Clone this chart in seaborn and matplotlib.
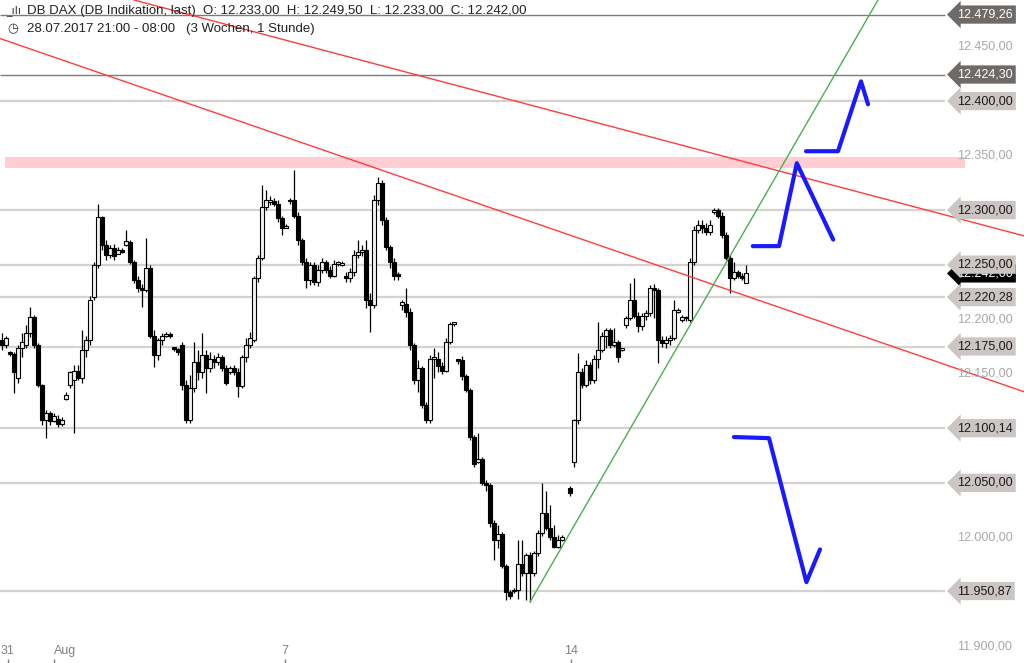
import numpy as np
import pandas as pd
import matplotlib
matplotlib.use("Agg")
import matplotlib.pyplot as plt
import matplotlib.transforms as mtransforms
import seaborn as sns

# DB DAX (DB Indikation), hourly bars 28.07.2017 21:00 - 08:00 (3 Wochen)
# one NaN bar marks the empty slot before the 14th
opens = [12181, 12176, 12170, 12168, 12146, 12174, 12176, 12187, 12202, 12176,
         12140, 12108, 12114, 12107, 12109, 12104, 12127, 12140, 12144, 12153,
         12146, 12172, 12181, 12220, 12250, 12294, 12268, 12259, 12265, 12260,
         12263, 12268, 12271, 12252, 12236, 12229, 12227, 12247, 12185, 12167,
         12181, 12185, 12186, 12174, 12173, 12176, 12140, 12108, 12137, 12161,
         12152, 12167, 12155, 12164, 12161, 12165, 12155, 12152, 12155, 12152,
         12139, 12165, 12176, 12181, 12238, 12256, 12303, 12307, 12308, 12306,
         12293, 12284, 12308, 12309, 12295, 12273, 12252, 12236, 12250, 12234,
         12245, 12252, 12245, 12240, 12251, 12250, 12240, 12238, 12243, 12259,
         12262, 12263, 12218, 12213, 12309, 12325, 12291, 12266, 12252, 12241,
         12213, 12214, 12207, 12176, 12144, 12155, 12121, 12108, 12164, 12164,
         12157, 12153, 12179, 12196, 12163, 12163, 12148, 12135, 12092, 12069,
         12072, 12050, 12048, 12013, 11998, 12003, 11974, 11950, 11951, 11952,
         11976, 11967, 11984, 11967, 11986, 12004, 12022, 12009, 12000, 11991, 11998,
         np.nan,
         12045, 12069, 12108, 12152, 12140, 12158, 12144, 12164, 12172,
         12185, 12190, 12176, 12179, 12172, 12195, 12201, 12218, 12203, 12194,
         12203, 12206, 12229, 12227, 12181, 12178, 12181, 12183, 12207, 12199,
         12201, 12199, 12252, 12282, 12286, 12284, 12280, 12298, 12300, 12295,
         12277, 12256, 12238, 12243, 12240, 12233]
closes = [12176, 12183, 12168, 12152, 12174, 12179, 12187, 12202, 12176, 12140,
          12108, 12114, 12107, 12111, 12104, 12108, 12131, 12152, 12153, 12146,
          12172, 12181, 12218, 12250, 12294, 12268, 12259, 12265, 12258, 12263,
          12262, 12272, 12252, 12236, 12229, 12227, 12247, 12185, 12167, 12181,
          12185, 12186, 12185, 12173, 12170, 12140, 12108, 12137, 12161, 12152,
          12167, 12155, 12164, 12161, 12165, 12155, 12142, 12155, 12152, 12139,
          12165, 12176, 12183, 12238, 12256, 12303, 12309, 12309, 12306, 12293,
          12284, 12285, 12309, 12295, 12273, 12252, 12236, 12250, 12234, 12245,
          12252, 12245, 12240, 12251, 12251, 12251, 12238, 12243, 12259, 12262,
          12263, 12218, 12213, 12309, 12325, 12291, 12266, 12252, 12240, 12240,
          12216, 12207, 12176, 12144, 12155, 12121, 12108, 12164, 12164, 12157,
          12153, 12179, 12196, 12196, 12162, 12148, 12135, 12092, 12067, 12072,
          12050, 12048, 12013, 11998, 12003, 11974, 11950, 11946, 11952, 11976,
          11967, 11984, 11967, 11986, 12004, 12022, 12009, 12000, 11991, 11998, 12000,
          np.nan,
          12041, 12108, 12152, 12140, 12158, 12144, 12164, 12172, 12185,
          12190, 12176, 12179, 12165, 12173, 12201, 12218, 12203, 12194, 12203,
          12206, 12229, 12227, 12181, 12178, 12181, 12183, 12208, 12208, 12202,
          12201, 12252, 12282, 12286, 12284, 12280, 12286, 12300, 12295, 12277,
          12256, 12238, 12243, 12240, 12238, 12242]
highs = [12187, 12185, 12171, 12170, 12176, 12187, 12195, 12211, 12204, 12178,
         12141, 12117, 12116, 12114, 12112, 12110, 12133, 12153, 12158, 12158,
         12190, 12185, 12221, 12252, 12306, 12295, 12273, 12268, 12269, 12266,
         12265, 12282, 12273, 12254, 12240, 12232, 12274, 12250, 12190, 12183,
         12187, 12188, 12188, 12175, 12174, 12179, 12144, 12149, 12179, 12172,
         12187, 12172, 12170, 12167, 12169, 12167, 12158, 12157, 12158, 12155,
         12167, 12183, 12188, 12240, 12259, 12323, 12318, 12313, 12311, 12309,
         12295, 12287, 12311, 12337, 12298, 12274, 12256, 12252, 12252, 12250,
         12256, 12254, 12249, 12254, 12253, 12253, 12243, 12247, 12263, 12273,
         12268, 12273, 12224, 12314, 12330, 12328, 12294, 12268, 12256, 12243,
         12218, 12229, 12210, 12178, 12163, 12157, 12124, 12167, 12174, 12170,
         12161, 12183, 12197, 12197, 12164, 12166, 12150, 12137, 12094, 12096,
         12074, 12053, 12050, 12016, 12011, 12005, 11976, 11952, 11954, 11998,
         11998, 11986, 11987, 11988, 12007, 12050, 12043, 12030, 12011, 12002, 12002,
         np.nan,
         12047, 12109, 12169, 12155, 12163, 12161, 12167, 12197, 12188,
         12192, 12192, 12192, 12181, 12174, 12203, 12233, 12238, 12207, 12206,
         12208, 12231, 12232, 12229, 12185, 12185, 12186, 12218, 12210, 12204,
         12203, 12256, 12285, 12291, 12291, 12288, 12291, 12302, 12302, 12298,
         12280, 12259, 12252, 12245, 12242, 12249.5]
lows = [12172, 12174, 12166, 12132, 12142, 12165, 12174, 12184, 12174, 12138,
        12103, 12091, 12103, 12106, 12101, 12102, 12126, 12137, 12096, 12144,
        12142, 12165, 12176, 12218, 12247, 12263, 12254, 12256, 12254, 12260,
        12261, 12267, 12251, 12233, 12225, 12211, 12225, 12183, 12156, 12163,
        12176, 12184, 12183, 12171, 12167, 12135, 12105, 12105, 12133, 12144,
        12146, 12132, 12152, 12155, 12158, 12153, 12140, 12150, 12149, 12129,
        12137, 12161, 12174, 12179, 12234, 12254, 12300, 12305, 12304, 12289,
        12277, 12284, 12306, 12293, 12268, 12250, 12229, 12231, 12231, 12230,
        12242, 12242, 12238, 12239, 12249, 12249, 12234, 12234, 12240, 12256,
        12258, 12210, 12188, 12210, 12305, 12286, 12263, 12247, 12236, 12236,
        12208, 12202, 12172, 12141, 12133, 12119, 12105, 12105, 12146, 12152,
        12150, 12152, 12177, 12194, 12159, 12144, 12133, 12089, 12065, 12068,
        12048, 12043, 12010, 11979, 11990, 11972, 11943, 11944, 11949, 11944,
        11965, 11943, 11941, 11965, 11983, 12001, 12007, 11998, 11990, 11990, 11997,
        np.nan,
        12038, 12065, 12104, 12137, 12138, 12141, 12142, 12155, 12170,
        12174, 12174, 12175, 12161, 12171, 12192, 12199, 12201, 12188, 12190,
        12199, 12203, 12201, 12160, 12175, 12174, 12176, 12181, 12206, 12197,
        12198, 12197, 12250, 12279, 12279, 12277, 12277, 12296, 12293, 12274,
        12254, 12224, 12236, 12238, 12236, 12233]

day_ticks = [1.4, 13.1, 70.75, 142.25]
day_labels = ['31', 'Aug', '7', '14']

levels_light = [12400, 12300, 12250, 12220.28, 12175, 12100.14, 12050, 11950.87]
levels_dark = [12479.26, 12424.30]
levels_plain = [12450, 12350, 12200, 12150, 12000, 11900]
last_price = 12242.0
zone_lo, zone_hi = 12338.6, 12348.7

# trend lines, (bar, price)
red_upper_x = [33, 255.5]
red_upper_y = [12492.6, 12276.4]
red_lower_x = [-0.5, 255.5]
red_lower_y = [12457.3, 12133.5]
green_x = [132, 219]
green_y = [11940.8, 12492.6]

# blue scenario sketches
sketch1_x = [187.7, 194.25, 198.7, 207.8]
sketch1_y = [12267, 12267, 12343, 12273]
sketch2_x = [201, 209, 214.75, 216.5]
sketch2_y = [12354, 12354, 12418, 12397]
sketch3_x = [183, 191.75, 201.1, 204.5]
sketch3_y = [12092, 12091, 11959, 11989]

bars = pd.DataFrame({'open': opens, 'high': highs, 'low': lows, 'close': closes})
bars['bar'] = np.arange(len(bars))
bars = bars.dropna()

sns.set_style("white")
plt.rcParams['font.family'] = ['Liberation Sans', 'DejaVu Sans']

fig = plt.figure(figsize=(10.24, 6.63), dpi=100)
ax = fig.add_axes([0, 0, 1, 1])
ax.set_xlim(-0.5, 255.5)
ax.set_ylim(11884.9, 12492.6)
ax.axis('off')

grid_end = 235.75
ax.hlines(levels_light, -0.5, grid_end, color='#d6d2cf', lw=1.6, zorder=1)
ax.hlines(levels_dark, -0.5, grid_end, color='#7c7c7c', lw=1.0, zorder=1)
ax.fill_between([0.75, 240.75], zone_lo, zone_hi, color='#ffcdd2', lw=0, zorder=1)

# candles
up = bars['close'] >= bars['open']
body_lo = np.minimum(bars['open'], bars['close'])
body_h = np.maximum((bars['close'] - bars['open']).abs(), 1.2)
ax.vlines(bars['bar'], bars['low'], bars['high'], color='black', lw=0.9, zorder=3)
ax.bar(bars['bar'][up], body_h[up], bottom=body_lo[up], width=0.85,
       color='#f2f2f2', edgecolor='black', linewidth=0.8, zorder=4)
ax.bar(bars['bar'][~up], body_h[~up], bottom=body_lo[~up], width=0.85,
       color='black', edgecolor='black', linewidth=0.8, zorder=4)

# trend lines and sketches
sns.lineplot(x=red_upper_x, y=red_upper_y, ax=ax, color='#ff3d3d', lw=1.0, sort=False, estimator=None, zorder=5)
sns.lineplot(x=red_lower_x, y=red_lower_y, ax=ax, color='#ff3d3d', lw=1.0, sort=False, estimator=None, zorder=5)
sns.lineplot(x=green_x, y=green_y, ax=ax, color='#4caf50', lw=1.0, sort=False, estimator=None, zorder=5)
for sx, sy in [(sketch1_x, sketch1_y), (sketch2_x, sketch2_y), (sketch3_x, sketch3_y)]:
    sns.lineplot(x=sx, y=sy, ax=ax, color='#1a1aff', lw=3.0, sort=False, estimator=None, zorder=6)


def de(v):
    return f"{v:,.2f}".replace(',', 'X').replace('.', ',').replace('X', '.')


trans = mtransforms.blended_transform_factory(ax.transAxes, ax.transData)
lx = 957 / 1024
ax.text(lx, last_price, de(last_price), transform=trans, ha='left', va='center',
        fontsize=9, color='white', zorder=8,
        bbox=dict(boxstyle='larrow,pad=0.25', fc='black', ec='none'))
for v in levels_light:
    ax.text(lx, v, de(v), transform=trans, ha='left', va='center', fontsize=9,
            color='#1a1a1a', zorder=10,
            bbox=dict(boxstyle='larrow,pad=0.25', fc='#cbc6c3', ec='none'))
for v in levels_dark:
    ax.text(lx, v, de(v), transform=trans, ha='left', va='center', fontsize=9,
            color='white', zorder=10,
            bbox=dict(boxstyle='larrow,pad=0.25', fc='#6e6a68', ec='none'))
for v in levels_plain:
    ax.text(lx, v, de(v), transform=trans, ha='left', va='center', fontsize=9,
            color='#a8a8a8', zorder=10)

# date axis
for t, lab in zip(day_ticks, day_labels):
    ha = 'left' if lab == 'Aug' else 'center'
    ax.text(t, 11895.5, lab, ha=ha, va='center', fontsize=9, color='#808080')
ax.vlines(day_ticks, 11884.9, 11888.5, color='#808080', lw=1.0)

fig.text(6 / 1024, 1 - 11 / 663, '_\u0131l\u0131', fontsize=8, va='center', color='#333333',
         family=['DejaVu Sans'])
fig.text(27 / 1024, 1 - 11 / 663,
         'DB DAX (DB Indikation, last)  O: 12.233,00  H: 12.249,50  L: 12.233,00  C: 12.242,00',
         fontsize=9.5, va='center', color='#222222')
fig.text(7 / 1024, 1 - 29 / 663, '\u25f7', fontsize=9, va='center', color='#333333',
         family=['DejaVu Sans'])
fig.text(27 / 1024, 1 - 29 / 663, '28.07.2017 21:00 - 08:00   (3 Wochen, 1 Stunde)',
         fontsize=9.5, va='center', color='#222222')

fig.savefig('out.png', dpi=100)
